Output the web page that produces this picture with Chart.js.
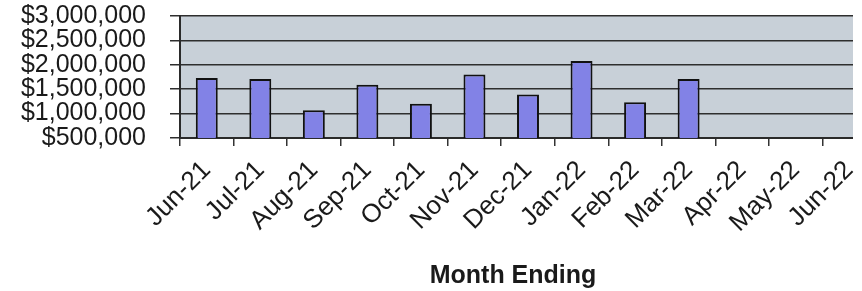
<!DOCTYPE html>
<html>
<head>
<meta charset="utf-8">
<script src="https://cdn.jsdelivr.net/npm/chart.js@4/dist/chart.umd.min.js"></script>
<style>
  html, body { margin: 0; padding: 0; background: #fff; overflow: hidden; }
  #wrap { position: relative; width: 862px; height: 291px; overflow: hidden; }
  #chart { position: absolute; left: 0; top: 0; }
  #axisTitle {
    position: absolute; left: 513px; top: 262px; transform: translateX(-50%);
    font: bold 25px "Liberation Sans", Arial, sans-serif; line-height: 1;
    color: #1a1a1a; white-space: nowrap;
  }
</style>
</head>
<body>
<div id="wrap">
  <canvas id="chart" width="880" height="291"></canvas>
  <div id="axisTitle">Month Ending</div>
</div>
<script>
// mois (fin de mois)
const months = ['Jun-21', 'Jul-21', 'Aug-21', 'Sep-21', 'Oct-21', 'Nov-21', 'Dec-21',
                'Jan-22', 'Feb-22', 'Mar-22', 'Apr-22', 'May-22', 'Jun-22'];
// montants
const amounts = [1730000, 1710000, 1070000, 1590000, 1200000, 1800000, 1390000,
                 2080000, 1235000, 1710000, null, null, null];
const yMin = 500000;
const yMax = 3000000;
const yStep = 500000;

// the scanned plot is cut off on the right side
const plotClipRight = 853;

const plotBackground = {
    id: 'plotBackground',
    beforeDraw(chart) {
        const { ctx, chartArea } = chart;
        ctx.save();
        ctx.fillStyle = '#c8d0d8';
        ctx.fillRect(chartArea.left, chartArea.top, chartArea.right - chartArea.left, chartArea.bottom - chartArea.top);
        ctx.restore();
    },
    afterDraw(chart) {
        const { ctx, chartArea } = chart;
        ctx.save();
        ctx.fillStyle = '#ffffff';
        ctx.fillRect(plotClipRight, 0, chart.width - plotClipRight, chartArea.bottom + 2);
        ctx.restore();
    }
};

const ctx = document.getElementById('chart').getContext('2d');
new Chart(ctx, {
    type: 'bar',
    data: {
        labels: months,
        datasets: [{
            data: amounts,
            backgroundColor: '#8282e6',
            borderColor: '#111111',
            borderWidth: 2,
            categoryPercentage: 1,
            barPercentage: 0.41
        }]
    },
    options: {
        responsive: false,
        animation: false,
        layout: { padding: { top: 16, right: 4, left: 0, bottom: 0 } },
        plugins: { legend: { display: false }, tooltip: { enabled: false } },
        scales: {
            x: {
                afterFit: (scale) => {
                    scale.height = 153;
                    scale.paddingLeft = 0;
                    scale.paddingRight = 0;
                },
                grid: {
                    drawOnChartArea: false,
                    drawTicks: true,
                    tickLength: 8,
                    color: '#333333',
                    lineWidth: 1.5
                },
                border: { display: true, color: '#2a2a2a', width: 2 },
                ticks: {
                    autoSkip: false,
                    maxRotation: 45,
                    minRotation: 45,
                    padding: 9,
                    color: '#1a1a1a',
                    font: { family: '"Liberation Sans", Arial, sans-serif', size: 26 }
                }
            },
            y: {
                min: yMin,
                max: yMax,
                afterFit: (scale) => {
                    scale.width = 180;
                    scale.paddingTop = 0;
                    scale.paddingBottom = 0;
                },
                grid: {
                    color: '#2e2e2e',
                    lineWidth: 1.5,
                    tickLength: 10
                },
                border: { display: true, color: '#2a2a2a', width: 2 },
                ticks: {
                    stepSize: yStep,
                    autoSkip: false,
                    padding: 24,
                    color: '#1a1a1a',
                    font: { family: '"Liberation Sans", Arial, sans-serif', size: 25 },
                    callback: (v) => '$' + v.toLocaleString('en-US')
                }
            }
        }
    },
    plugins: [plotBackground]
});
</script>
</body>
</html>
